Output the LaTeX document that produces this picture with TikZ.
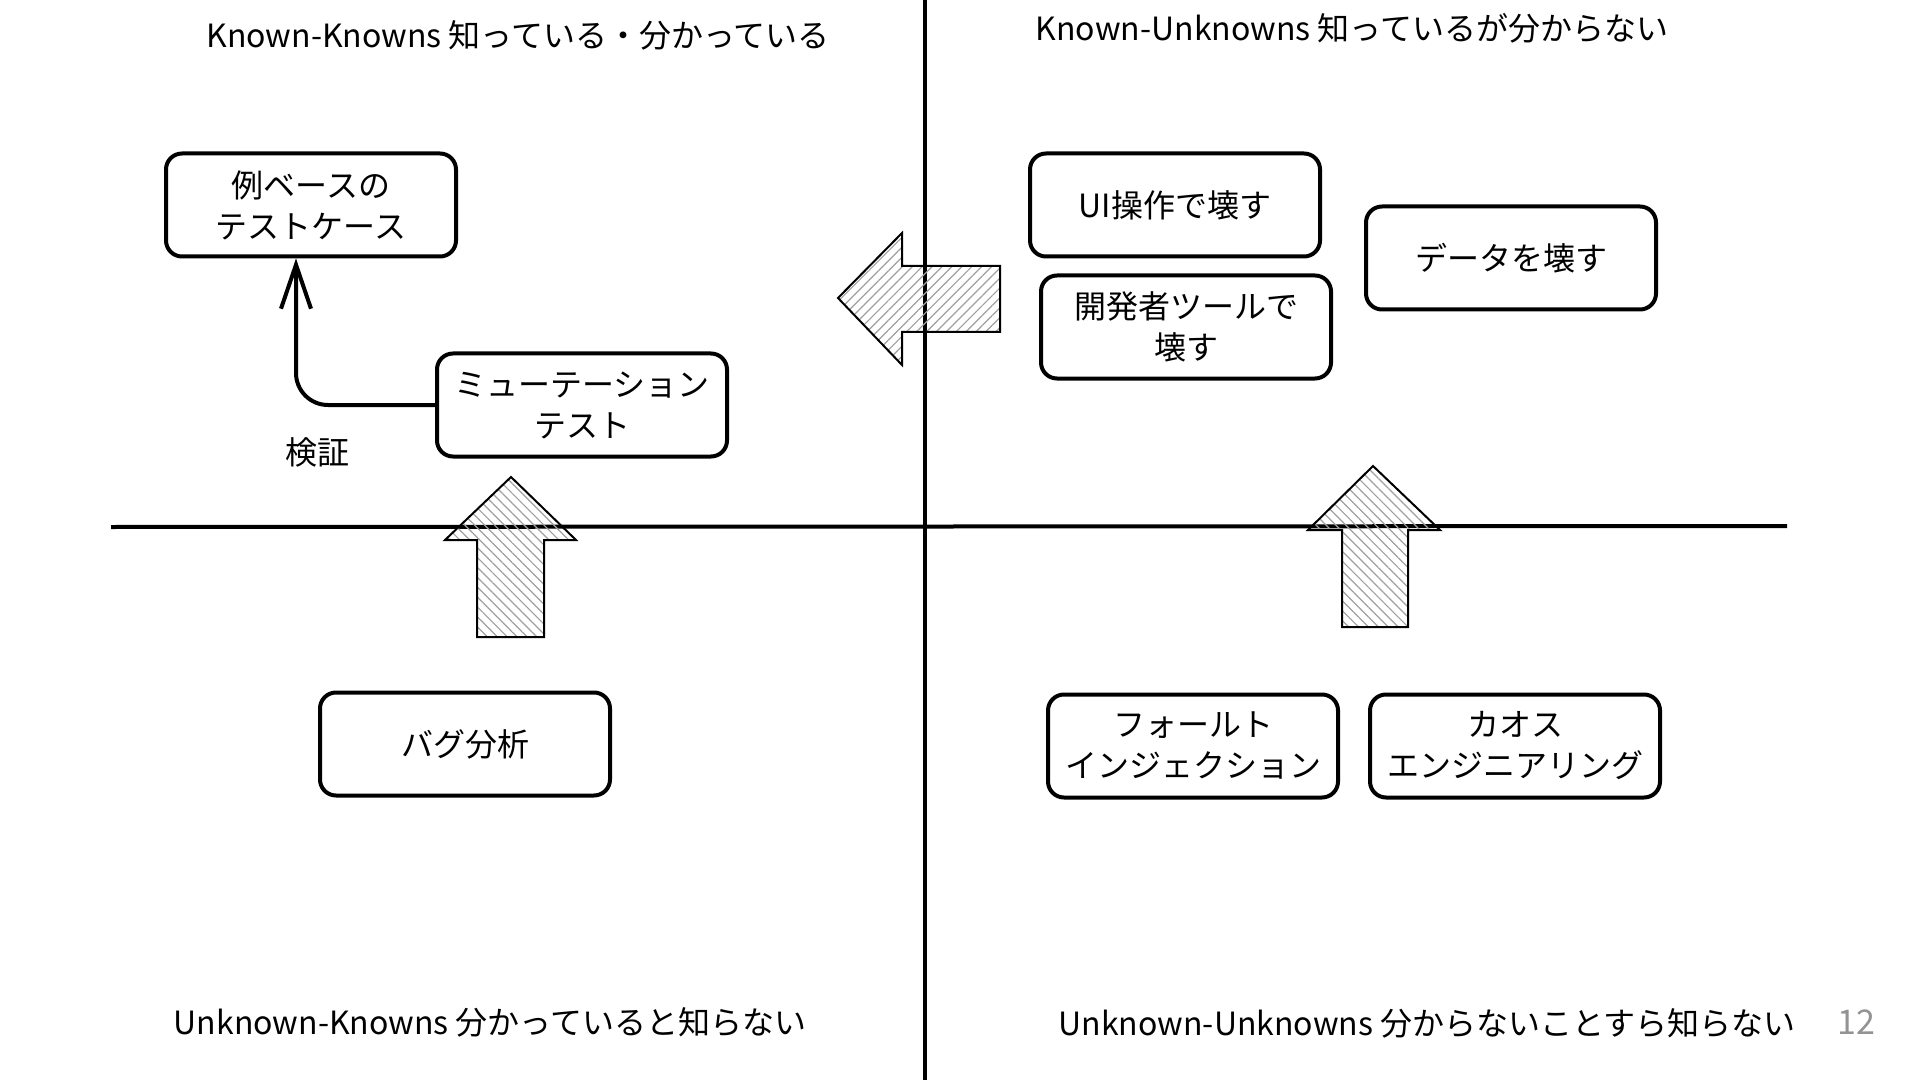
\documentclass[tikz,border=0pt]{standalone}
\usepackage{fontspec}
\setmainfont{Noto Sans CJK JP}
\usetikzlibrary{positioning,arrows.meta,patterns.meta}

\begin{document}
\begin{tikzpicture}[x=0.5pt,y=-0.5pt,>={Straight Barb[length=22pt,width=15pt]},
box/.style = {draw, line width=2pt, rounded corners=8pt, minimum width=145pt, minimum height=51.5pt, align=center, font=\fontsize{16pt}{20.5pt}\selectfont},
title/.style = {font=\fontsize{16pt}{20pt}\selectfont},
hatch/.style = {draw, line width=1pt, pattern={Lines[angle=#1,distance=3.5pt,line width=0.6pt]}, pattern color=gray!75},]
\useasboundingbox (0,0) rectangle (1920,1080);
% axes
\coordinate (top) at (925,0);
\coordinate (bot) at (925,1080);
\coordinate (left) at (111,527);
\coordinate (right) at (1787,526);
\draw[line width=1.8pt] (top) -- (bot);
\draw[line width=2pt] (left) -- (right);
% quadrant titles
\node[title] (kk) at (518,35) {Known-Knowns 知っている・分かっている};
\node[title] (ku) at (1352,28) {Known-Unknowns 知っているが分からない};
\node[title] (uk) at (490,1022) {Unknown-Knowns 分かっていると知らない};
\node[title] (uu) at (1427,1023) {Unknown-Unknowns 分からないことすら知らない};
\node[font=\fontsize{17pt}{20pt}\selectfont, text=gray!85] (page) at (1856,1022) {12};
% boxes
\node[box] (case) at (311,205) {例ベースの\\テストケース};
\node[box] (mut) at (582,405) {ミューテーション\\テスト};
\node[box] (ui) at (1175,205) {UI操作で壊す};
\node[box] (dev) at (1186,327) {開発者ツールで\\壊す};
\node[box] (data) at (1511,258) {データを壊す};
\node[box] (bug) at (465,744) {バグ分析};
\node[box] (fault) at (1193,746) {フォールト\\インジェクション};
\node[box] (chaos) at (1515,746) {カオス\\エンジニアリング};
% verification
\draw[->, line width=2pt, rounded corners=16pt] (mut.west) -| ([xshift=-7.5pt]case.south);
\node[title] (kensho) at (317,452) {検証};
% block arrows
\draw[hatch=45] (838,298) -- (902,233) -- (902,266) -- (1000,266) -- (1000,332) -- (902,332) -- (902,365) -- cycle;
\draw[hatch=-45] (511,477) -- (576,540) -- (544,540) -- (544,637) -- (477,637) -- (477,540) -- (445,540) -- cycle;
\draw[hatch=-45] (1373,466) -- (1440,530) -- (1408,530) -- (1408,627) -- (1342,627) -- (1342,530) -- (1308,530) -- cycle;
\end{tikzpicture}
\end{document}
